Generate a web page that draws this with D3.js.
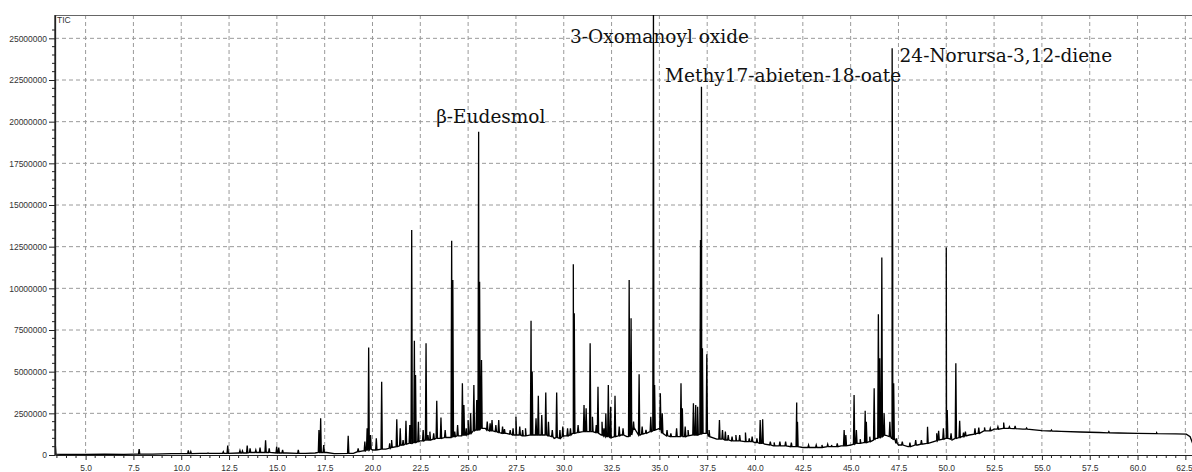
<!DOCTYPE html>
<html>
<head>
  <meta charset="utf-8">
  <title>TIC chromatogram</title>
  <style>
    body { margin: 0; background: #fff; }
    .tick text { font-family: "Liberation Sans", Arial, sans-serif; font-size: 8.5px; fill: #333; }
    .peak-label { font-family: "DejaVu Serif", serif; font-size: 18.5px; fill: #111; }
  </style>
</head>
<body>
  <div id='chart'></div>
  <script src="https://d3js.org/d3.v7.min.js"></script>
  <script>

    function translate(x, y) {
      return 'translate(' + x + ',' + y + ')';
    }

    // ---------------------------------------------------------------- data (intensity in millions)
    // baseline of the trace
    let baseRt = [3.40, 3.45, 4.0, 5.0, 6.0, 7.0, 7.6, 8.5, 9.5, 10.0, 11.0, 12.0, 13.0, 14.0, 15.5, 16.5,
      17.0, 17.6, 18.0, 19.0, 19.5, 20.0, 20.7, 21.0, 21.5, 22.0, 22.5, 23.0, 23.5, 24.0, 24.5, 25.0,
      25.4, 25.9, 26.3, 27.0, 27.5, 28.0, 28.5, 29.0, 29.5, 30.0, 30.5, 31.0, 31.5, 32.0, 32.5, 33.0,
      33.3, 33.7, 34.0, 34.5, 35.0, 35.3, 35.7, 36.0, 36.5, 37.0, 37.6, 38.0, 38.5, 39.0, 39.5, 40.0,
      40.5, 41.0, 41.5, 42.0, 42.5, 43.0, 43.5, 44.0, 44.5, 45.0, 45.5, 46.0, 46.3, 46.8, 47.3, 47.5,
      48.0, 48.5, 49.0, 49.5, 50.0, 50.3, 50.8, 51.2, 51.6, 52.0, 52.5, 53.0, 53.5, 54.0, 55.0, 56.0,
      57.0, 58.0, 59.0, 60.0, 61.0, 62.0, 62.55, 62.75, 62.88];
    let baseTic = [0.9, 0.05, 0.03, 0.03, 0.05, 0.04, 0.05, 0.05, 0.08, 0.08, 0.1, 0.1, 0.12, 0.15, 0.12, 0.1,
      0.12, 0.15, 0.08, 0.1, 0.25, 0.3, 0.35, 0.45, 0.6, 0.7, 0.85, 0.9, 1.0, 1.05, 1.15, 1.25,
      1.5, 1.6, 1.45, 1.3, 1.2, 1.15, 1.2, 1.2, 1.0, 1.15, 1.3, 1.4, 1.4, 1.2, 1.05, 1.2,
      1.1, 1.6, 1.2, 1.4, 1.6, 1.2, 1.1, 1.1, 1.15, 1.2, 1.3, 0.95, 0.9, 0.85, 0.8, 0.75,
      0.65, 0.55, 0.55, 0.5, 0.45, 0.45, 0.45, 0.5, 0.55, 0.6, 0.7, 0.8, 1.0, 1.2, 1.0, 0.6,
      0.5, 0.6, 0.7, 0.9, 1.0, 0.9, 1.1, 1.2, 1.3, 1.45, 1.55, 1.6, 1.58, 1.55, 1.46, 1.42,
      1.38, 1.35, 1.32, 1.3, 1.28, 1.27, 1.25, 1.1, 0.7];

    // peaks: retention time, apex, local base
    let peakRt = [7.8, 10.37, 10.5, 11.4, 12.2, 12.43, 13.07, 13.2, 13.45, 13.6, 13.9, 14.12, 14.41, 14.6,
      14.99, 15.1, 15.3, 16.12, 17.2, 17.29, 17.45, 18.73, 19.25, 19.6, 19.72, 19.8, 19.9, 20.2, 20.48,
      21.0, 21.27, 21.45, 21.75, 21.95, 22.05, 22.19, 22.25, 22.4, 22.65, 22.8, 23.0, 23.36, 23.58, 23.8,
      24.14, 24.2, 24.45, 24.7, 24.78, 25.0, 25.13, 25.3, 25.45, 25.55, 25.6, 25.7, 26.0, 26.25, 26.45,
      26.6, 26.9, 27.2, 27.5, 27.7, 28.0, 28.29, 28.35, 28.55, 28.67, 28.85, 29.06, 29.2, 29.63, 29.8,
      30.2, 30.5, 30.55, 30.75, 31.06, 31.17, 31.38, 31.5, 31.79, 32.0, 32.2, 32.33, 32.45, 32.68, 32.9,
      33.42, 33.52, 33.65, 33.94, 34.3, 34.55, 34.69, 34.75, 35.05, 35.15, 35.6, 35.9, 36.13, 36.2, 36.5,
      36.78, 36.9, 37.0, 37.15, 37.2, 37.25, 37.48, 37.6, 38.14, 38.3, 38.45, 38.8, 39.2, 39.5, 39.7,
      40.27, 40.4, 41.0, 41.3, 41.6, 42.18, 42.22, 43.5, 44.0, 44.66, 44.75, 45.18, 45.3, 45.76, 45.82,
      46.23, 46.45, 46.52, 46.63, 46.75, 47.05, 47.17, 47.2, 47.25, 47.4, 48.4, 48.7, 49.02, 49.5, 49.6,
      49.85, 50.0, 50.05, 50.25, 50.5, 50.7, 50.9, 51.5, 51.7, 52.3, 52.7, 53.0, 53.3];
    let peakTic = [0.35, 0.27, 0.2, 0.12, 0.2, 0.56, 0.27, 0.25, 0.56, 0.4, 0.3, 0.44, 0.88, 0.4,
      0.5, 0.45, 0.3, 0.3, 1.5, 2.2, 0.6, 1.16, 0.4, 0.8, 1.6, 6.45, 1.2, 1.0, 4.4,
      0.9, 2.15, 1.6, 2.05, 1.8, 13.5, 6.85, 4.8, 2.0, 1.5, 6.7, 1.4, 3.25, 2.25, 1.5,
      12.85, 10.5, 1.8, 4.3, 3.0, 2.1, 2.5, 4.2, 3.3, 19.4, 10.4, 5.7, 2.0, 2.1, 1.8,
      2.1, 1.55, 1.5, 2.3, 1.7, 1.6, 8.05, 5.0, 2.2, 3.55, 2.4, 3.75, 2.0, 3.75, 1.5,
      1.6, 11.45, 8.5, 1.8, 3.0, 2.8, 6.7, 2.3, 4.1, 2.0, 2.5, 4.2, 2.9, 3.55, 1.7,
      10.5, 8.2, 2.0, 4.85, 1.5, 2.3, 27.0, 4.2, 3.7, 2.5, 1.3, 1.6, 4.3, 2.8, 1.5,
      3.1, 3.0, 2.9, 12.9, 22.1, 6.4, 6.05, 1.5, 2.1, 1.5, 1.4, 1.1, 1.2, 1.35, 1.0,
      2.1, 2.15, 0.75, 0.8, 0.8, 3.15, 2.0, 0.6, 0.6, 1.5, 1.2, 3.6, 1.5, 2.65, 2.0,
      4.0, 8.45, 5.8, 11.85, 2.5, 2.0, 24.4, 11.6, 4.3, 1.0, 0.9, 0.9, 1.7, 1.3, 1.45,
      1.6, 12.45, 2.7, 1.3, 5.5, 2.05, 1.35, 1.6, 1.65, 1.6, 1.7, 1.95, 1.7];
    let peakBase = [0.05, 0.08, 0.08, 0.1, 0.1, 0.1, 0.12, 0.12, 0.12, 0.15, 0.15, 0.15, 0.15, 0.15,
      0.12, 0.12, 0.12, 0.1, 0.15, 0.15, 0.15, 0.1, 0.2, 0.25, 0.3, 0.3, 0.35, 0.3, 0.35,
      0.45, 0.5, 0.55, 0.65, 0.7, 0.7, 0.75, 0.75, 0.8, 0.85, 0.9, 0.9, 1.0, 1.0, 1.05,
      1.05, 1.1, 1.15, 1.15, 1.2, 1.25, 1.3, 1.45, 1.5, 1.5, 1.55, 1.6, 1.5, 1.45, 1.4,
      1.35, 1.3, 1.25, 1.2, 1.2, 1.15, 1.2, 1.2, 1.2, 1.2, 1.2, 1.2, 1.15, 1.05, 1.0,
      1.15, 1.3, 1.3, 1.35, 1.4, 1.4, 1.4, 1.4, 1.3, 1.2, 1.1, 1.1, 1.05, 1.1, 1.15,
      1.1, 1.2, 1.5, 1.2, 1.3, 1.4, 1.45, 1.5, 1.5, 1.3, 1.1, 1.1, 1.1, 1.1, 1.15,
      1.2, 1.2, 1.2, 1.25, 1.25, 1.3, 1.3, 1.1, 0.95, 0.95, 0.9, 0.85, 0.85, 0.8, 0.8,
      0.7, 0.7, 0.55, 0.55, 0.55, 0.5, 0.5, 0.45, 0.5, 0.55, 0.55, 0.65, 0.7, 0.75, 0.75,
      0.9, 1.0, 1.0, 1.1, 1.15, 1.1, 1.0, 1.0, 0.9, 0.7, 0.6, 0.65, 0.7, 0.85, 0.9,
      0.95, 1.0, 1.0, 0.95, 1.0, 1.05, 1.1, 1.25, 1.3, 1.45, 1.55, 1.6, 1.6];

    // small noise bumps on the baseline: retention time, apex, local base
    let noiseRt = [20.9, 21.6, 22.9, 23.2, 24.3, 24.9, 26.15, 26.8, 27.35, 27.85, 29.4, 29.95, 30.35,
      31.7, 32.1, 33.1, 34.1, 35.4, 36.35, 38.6, 39.0, 39.85, 40.1, 40.8, 41.9, 42.8, 43.2, 43.8,
      44.3, 45.5, 46.0, 47.7, 48.1, 51.0, 52.0, 53.6, 54.2, 55.5, 58.5, 61.0];
    let noiseTic = [0.7, 0.9, 1.2, 1.3, 1.4, 1.6, 1.9, 1.7, 1.6, 1.5, 1.5, 1.7, 1.6,
      1.8, 1.6, 1.6, 1.7, 1.5, 1.7, 1.2, 1.2, 1.1, 1.0, 0.8, 0.75, 0.6, 0.6, 0.65,
      0.7, 0.95, 1.1, 0.8, 0.75, 1.4, 1.65, 1.75, 1.62, 1.5, 1.4, 1.33];
    let noiseBase = [0.4, 0.6, 0.9, 0.95, 1.1, 1.2, 1.45, 1.3, 1.2, 1.15, 1.1, 1.1, 1.2,
      1.35, 1.15, 1.2, 1.25, 1.15, 1.1, 0.9, 0.85, 0.8, 0.75, 0.6, 0.5, 0.45, 0.45, 0.5,
      0.5, 0.7, 0.8, 0.6, 0.5, 1.15, 1.45, 1.58, 1.55, 1.44, 1.33, 1.28];

    // axis ticks
    let yTicks = [0, 2500000, 5000000, 7500000, 10000000, 12500000, 15000000, 17500000, 20000000, 22500000, 25000000];
    let xTicks = [5.0, 7.5, 10.0, 12.5, 15.0, 17.5, 20.0, 22.5, 25.0, 27.5, 30.0, 32.5, 35.0, 37.5, 40.0,
      42.5, 45.0, 47.5, 50.0, 52.5, 55.0, 57.5, 60.0, 62.5];

    // compound labels, anchored at (rt, intensity in millions)
    let labelText = ['β-Eudesmol', '3-Oxomanoyl oxide', 'Methy17-abieten-18-oate', '24-Norursa-3,12-diene'];
    let labelRt = [23.33, 30.33, 35.3, 47.56];
    let labelTic = [19.94, 24.74, 22.4, 23.6];

    // ---------------------------------------------------------------- layout
    let svgWidth = 1192;
    let svgHeight = 472;
    let plot = {left: 55, right: 1193, top: 15, bottom: 455};
    let halfWidth = 0.035;

    let x = d3.scaleLinear().domain([3.4, 62.9]).range([plot.left, plot.right]);
    let y = d3.scaleLinear().domain([0, 26400000]).range([plot.bottom, plot.top]);

    let svg = d3.select('#chart')
      .append('svg')
      .attr('width', svgWidth)
      .attr('height', svgHeight);

    svg.append('defs').append('clipPath').attr('id', 'clip')
      .append('rect')
      .attr('x', plot.left).attr('y', plot.top)
      .attr('width', plot.right - plot.left).attr('height', plot.bottom - plot.top + 2);

    // grid
    let grid = svg.append('g').attr('class', 'grid');
    grid.selectAll('line.gx')
      .data(xTicks)
      .enter().append('line')
      .attr('class', 'gx')
      .attr('x1', d => x(d)).attr('x2', d => x(d))
      .attr('y1', plot.top).attr('y2', plot.bottom)
      .attr('stroke', '#9a9a9a').attr('stroke-dasharray', '4,3');
    grid.selectAll('line.gy')
      .data(yTicks.filter(d => d > 0))
      .enter().append('line')
      .attr('class', 'gy')
      .attr('x1', plot.left).attr('x2', svgWidth)
      .attr('y1', d => y(d)).attr('y2', d => y(d))
      .attr('stroke', '#9a9a9a').attr('stroke-dasharray', '4,3');

    // top border
    svg.append('line')
      .attr('x1', plot.left).attr('x2', svgWidth)
      .attr('y1', plot.top + 0.5).attr('y2', plot.top + 0.5)
      .attr('stroke', '#666');

    // trace: baseline points merged with narrow peak triangles
    let points = baseRt.map((t, i) => [t, baseTic[i]]);
    function addPeaks(rts, tops, bases) {
      rts.forEach(function(t, i) {
        points.push([t - halfWidth, bases[i]]);
        points.push([t, tops[i]]);
        points.push([t + halfWidth, bases[i]]);
      });
    }
    addPeaks(peakRt, peakTic, peakBase);
    addPeaks(noiseRt, noiseTic, noiseBase);
    points.sort((a, b) => a[0] - b[0]);

    let line = d3.line()
      .x(d => x(d[0]))
      .y(d => y(d[1] * 1e6));

    svg.append('path')
      .datum(points)
      .attr('clip-path', 'url(#clip)')
      .attr('fill', 'none')
      .attr('stroke', '#000')
      .attr('stroke-width', 1.3)
      .attr('stroke-linejoin', 'miter')
      .attr('d', line);

    // axes
    let xMinor = d3.range(3.5, 62.75, 0.5).filter(v => Math.abs(v / 2.5 - Math.round(v / 2.5)) > 1e-6);
    let yMinor = d3.range(500000, 26000000, 500000).filter(v => v % 2500000 !== 0);

    let xAxis = svg.append('g')
      .attr('transform', translate(0, plot.bottom))
      .call(d3.axisBottom(x).tickValues(xTicks).tickFormat(d3.format('.1f')).tickSize(5).tickSizeOuter(0));
    xAxis.select('.domain').attr('stroke', '#222');
    xAxis.selectAll('.tick line').attr('stroke', '#222');
    xAxis.selectAll('.tick text').attr('dy', '0.95em');
    // last label sits at the right edge of the window
    xAxis.selectAll('.tick text').filter(d => d === 62.5).attr('text-anchor', 'end').attr('x', 7);
    svg.append('g')
      .attr('transform', translate(0, plot.bottom))
      .selectAll('line')
      .data(xMinor)
      .enter().append('line')
      .attr('x1', d => x(d)).attr('x2', d => x(d))
      .attr('y1', 0).attr('y2', 3)
      .attr('stroke', '#222');

    let yAxis = svg.append('g')
      .attr('transform', translate(plot.left, 0))
      .call(d3.axisLeft(y).tickValues(yTicks).tickFormat(d3.format('d')).tickSize(6).tickPadding(2).tickSizeOuter(0));
    yAxis.select('.domain').attr('stroke', '#222').attr('stroke-width', 1.3);
    yAxis.selectAll('.tick line').attr('stroke', '#222');
    svg.append('g')
      .attr('transform', translate(plot.left, 0))
      .selectAll('line')
      .data(yMinor)
      .enter().append('line')
      .attr('x1', -3).attr('x2', 0)
      .attr('y1', d => y(d)).attr('y2', d => y(d))
      .attr('stroke', '#222');
    svg.append('line')
      .attr('x1', plot.left).attr('x2', plot.left)
      .attr('y1', plot.top).attr('y2', plot.bottom)
      .attr('stroke', '#222').attr('stroke-width', 1.3);

    svg.append('text')
      .attr('x', plot.left + 2).attr('y', plot.top + 8)
      .style('font-family', '"Liberation Sans", Arial, sans-serif')
      .style('font-size', '8.5px')
      .style('fill', '#333')
      .text('TIC');

    // compound labels
    svg.selectAll('text.peak-label')
      .data(labelText)
      .enter().append('text')
      .attr('class', 'peak-label')
      .attr('x', (d, i) => x(labelRt[i]))
      .attr('y', (d, i) => y(labelTic[i] * 1e6))
      .text(d => d);

  </script>
</body>
</html>
